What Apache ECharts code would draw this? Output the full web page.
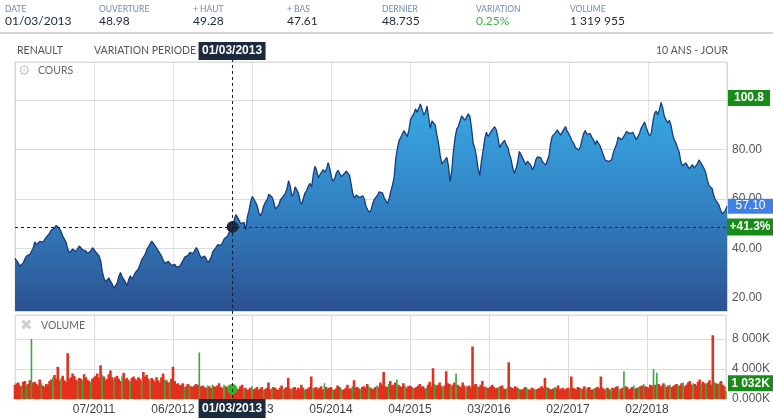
<!DOCTYPE html>
<html>
<head>
<meta charset="utf-8">
<script src="https://cdn.jsdelivr.net/npm/echarts@6/dist/echarts.min.js"></script>
<style>
html,body{margin:0;padding:0;background:#fff;}
#chart{width:773px;height:420px;}
</style>
</head>
<body>
<div id="chart"></div>
<script>
// bandeau du haut
var headLabels = ['DATE', 'OUVERTURE', '+ HAUT', '+ BAS', 'DERNIER', 'VARIATION', 'VOLUME'];
var headValues = ['01/03/2013', '48.98', '49.28', '47.61', '48.735', '0.25%', '1 319 955'];

// cours echantillonne (48 points par intervalle de grille)
var priceData = [
    36.0, 35.3, 34.1, 32.9, 33.4, 34.2, 35.8, 36.9, 37.1, 37.6, 38.9, 40.1, 42.7, 41.5, 41.9, 42.9, 43.1, 42.6, 43.6, 44.6,
    44.3, 46.2, 47.4, 47.0, 48.4, 49.3, 48.8, 48.1, 46.8, 44.9, 43.8, 42.5, 39.9, 38.2, 38.9, 39.8, 39.0, 38.7, 40.0, 41.0,
    40.5, 39.5, 39.3, 39.0, 38.0, 37.6, 39.1, 40.3, 40.6, 38.6, 37.9, 37.0, 35.0, 30.5, 28.0, 26.6, 27.3, 28.1, 26.7, 25.6,
    23.9, 24.6, 26.1, 28.8, 30.3, 28.5, 29.3, 26.4, 24.9, 27.5, 29.0, 27.6, 28.4, 30.2, 31.0, 31.9, 33.8, 35.6, 36.6, 37.6,
    39.6, 40.3, 41.9, 43.0, 42.1, 41.4, 40.1, 39.3, 37.9, 36.8, 35.2, 33.9, 33.7, 34.8, 34.2, 33.2, 32.9, 33.6, 32.4, 31.8,
    32.9, 33.6, 35.2, 36.5, 37.1, 37.2, 38.4, 38.9, 37.9, 38.5, 40.4, 39.3, 37.4, 36.2, 35.9, 36.9, 35.9, 34.3, 35.2, 36.4,
    38.7, 39.1, 40.4, 41.6, 41.8, 41.3, 42.5, 43.9, 44.6, 45.1, 46.6, 47.9, 48.735, 51.6, 53.7, 54.1, 51.4, 50.0, 49.7, 50.6,
    47.5, 52.8, 55.4, 58.9, 61.0, 60.2, 58.7, 57.1, 54.3, 53.2, 55.0, 57.4, 58.8, 59.7, 61.9, 62.6, 60.7, 58.9, 55.9, 55.2,
    57.5, 59.6, 60.5, 60.8, 62.3, 64.0, 67.4, 65.1, 61.2, 62.1, 64.9, 64.1, 62.3, 59.1, 57.9, 60.3, 62.5, 63.4, 65.3, 66.3,
    64.9, 69.9, 73.2, 71.6, 68.6, 68.9, 70.9, 71.9, 70.7, 72.2, 74.7, 72.3, 68.8, 67.1, 68.2, 70.6, 71.6, 70.9, 69.0, 68.6,
    70.4, 71.3, 71.7, 69.5, 65.8, 62.0, 60.4, 61.6, 61.7, 60.6, 61.2, 61.3, 59.9, 57.0, 55.6, 54.6, 55.5, 58.1, 59.8, 60.2,
    61.6, 62.9, 63.3, 62.4, 60.5, 59.9, 58.2, 60.1, 63.2, 65.5, 68.6, 76.2, 80.4, 83.6, 84.8, 85.1, 87.6, 88.4, 85.2, 87.9,
    92.1, 92.6, 94.5, 96.4, 95.0, 94.3, 98.4, 96.2, 93.9, 95.0, 97.5, 92.9, 88.5, 91.6, 92.3, 89.8, 85.7, 82.4, 77.5, 74.2,
    73.5, 75.9, 76.8, 73.4, 67.0, 71.5, 79.3, 84.6, 88.2, 89.3, 91.5, 93.6, 93.9, 91.8, 92.3, 94.4, 93.4, 88.6, 82.4, 80.5,
    77.1, 72.1, 69.6, 75.3, 79.5, 84.2, 87.0, 85.2, 85.3, 87.4, 88.1, 89.2, 88.0, 84.8, 80.7, 82.1, 82.3, 83.7, 82.0, 80.9,
    78.1, 76.0, 72.5, 70.4, 72.2, 75.1, 79.2, 78.5, 76.6, 75.9, 73.8, 75.3, 74.9, 73.5, 71.8, 73.2, 75.8, 77.0, 77.7, 76.7,
    75.1, 74.9, 73.7, 74.2, 77.5, 82.6, 85.4, 84.9, 86.8, 87.9, 87.3, 85.8, 85.7, 88.1, 89.3, 87.4, 86.4, 85.7, 83.4, 82.5,
    80.8, 81.3, 79.8, 81.0, 84.0, 86.4, 87.7, 86.2, 86.5, 86.4, 84.9, 83.9, 82.0, 83.6, 83.0, 81.4, 81.0, 77.8, 75.8, 76.3,
    75.1, 74.4, 75.8, 78.7, 80.4, 82.1, 85.0, 85.6, 83.9, 84.2, 85.9, 87.3, 87.8, 86.4, 86.0, 86.9, 85.3, 83.9, 83.9, 86.7,
    88.8, 89.6, 91.1, 88.9, 87.1, 85.5, 86.4, 91.0, 94.5, 95.5, 94.0, 96.1, 99.0, 96.8, 93.3, 92.9, 90.7, 91.8, 89.8, 86.2,
    83.9, 82.6, 80.6, 78.9, 75.0, 73.4, 74.1, 74.6, 73.5, 72.2, 72.7, 73.9, 72.5, 72.9, 74.2, 75.8, 76.2, 73.6, 72.4, 70.8,
    67.9, 65.5, 65.7, 64.2, 61.3, 59.6, 59.3, 57.7, 55.8, 54.0, 54.3, 55.3, 57.1
];

// volumes en milliers de titres
var volumeData = [
    1900, 2100, 2200, 1800, 1700, 2300, 2400, 1900, 2000, 2500, 8000, 2200, 2300, 2000, 1800, 2600, 2100, 1800, 1600, 2000,
    1900, 2400, 2600, 2900, 3200, 2700, 4300, 2500, 2800, 3100, 2500, 2300, 6100, 2700, 2900, 3400, 3100, 2600, 2400, 2800,
    2700, 2500, 3300, 2900, 2600, 2400, 2200, 2700, 2900, 3100, 3400, 2800, 4500, 3200, 3000, 2500, 2700, 3300, 3800, 2900,
    2600, 2900, 3100, 2700, 2400, 3000, 3500, 2600, 2800, 2500, 2300, 2800, 3000, 2700, 2500, 2900, 2700, 2400, 3600, 3000,
    3200, 2700, 2400, 2800, 2600, 2300, 2900, 2500, 2200, 2900, 3400, 2600, 2500, 2200, 2300, 2700, 4300, 2400, 2000, 2100,
    1800, 1900, 2100, 1600, 1700, 2000, 1900, 1700, 1600, 1800, 2000, 1900, 6200, 1700, 1800, 1600, 1500, 1800, 1700, 1500,
    1900, 1700, 1600, 1800, 2100, 1600, 1500, 1900, 1700, 1500, 1800, 1600, 1320, 1500, 1600, 1300, 1400, 1700, 1900, 1400,
    1500, 1200, 1300, 1500, 1700, 1300, 1400, 1600, 1200, 1400, 1600, 1200, 1300, 1500, 2200, 1300, 1400, 1600, 1500, 1300,
    1200, 1500, 1800, 1300, 1400, 1600, 2800, 1400, 1300, 1500, 1600, 1200, 1500, 1400, 1900, 1500, 1200, 1300, 1400, 1600,
    3000, 1400, 1500, 1600, 1300, 1500, 1700, 1300, 2100, 1600, 1400, 1500, 1600, 1300, 1200, 1400, 1800, 1600, 1500, 1200,
    1300, 1500, 1900, 1400, 1400, 1700, 2500, 1500, 1600, 1400, 1300, 1600, 1700, 1500, 2000, 1700, 1500, 1300, 1400, 1600,
    1800, 1600, 2200, 1900, 3600, 1700, 1600, 2000, 2400, 1800, 1900, 2200, 2600, 1900, 1700, 1600, 2100, 1800, 1500, 1700,
    1800, 1600, 1400, 1500, 1600, 1800, 2000, 1600, 1700, 1400, 1500, 1900, 2300, 1700, 4100, 2000, 1800, 1900, 2200, 1700,
    1600, 1800, 3700, 2100, 2000, 1700, 1900, 2200, 3400, 1900, 1700, 1600, 2200, 1800, 1500, 1700, 1800, 1500, 7000, 1900,
    2000, 1700, 1600, 1900, 2400, 1600, 1700, 1500, 1500, 1700, 1900, 1600, 1400, 1500, 1600, 1700, 1800, 1400, 1300, 1500,
    4900, 1600, 1500, 1400, 1700, 1500, 1400, 1300, 1200, 1400, 1600, 1500, 1300, 1200, 1500, 1400, 1200, 1300, 1400, 1500,
    1700, 1500, 2800, 1600, 1500, 1300, 1300, 1400, 1600, 1500, 1800, 1300, 1400, 1500, 1200, 1400, 1500, 1300, 3000, 1500,
    1400, 1300, 1600, 1500, 1300, 1400, 1700, 1200, 1500, 1600, 1200, 1300, 1400, 1500, 1600, 1400, 3000, 1500, 1300, 1400,
    1500, 1300, 1200, 1500, 1400, 1600, 1700, 1400, 1300, 1500, 3700, 1700, 1600, 1300, 1400, 1600, 1800, 1400, 1500, 1600,
    1700, 1800, 2000, 1700, 1600, 1500, 1900, 1800, 4000, 1900, 3500, 2000, 1800, 1700, 2100, 1900, 1600, 1800, 1900, 1600,
    1700, 1900, 2000, 1800, 1800, 2100, 2200, 1700, 1900, 2200, 2400, 1900, 2100, 2000, 1800, 2300, 2600, 2000, 2300, 2100,
    2000, 2200, 2500, 1900, 8500, 2300, 2100, 2000, 2200, 2400, 1900, 1700, 1032
];

// seances en hausse (barres vertes)
var greenDays = [4, 7, 10, 16, 23, 28, 38, 41, 46, 53, 60, 65, 70, 77, 82, 91, 94, 103, 106, 112, 117,
    120, 127, 132, 139, 144, 151, 156, 163, 168, 176, 181, 188, 193, 198, 205, 210, 215, 220, 227,
    232, 237, 242, 250, 255, 260, 265, 268, 274, 281, 286, 294, 299, 306, 311, 316, 323, 328, 337,
    344, 347, 352, 359, 362, 367, 370, 376, 379, 382, 388, 390, 395, 398, 403, 406, 412, 417, 420,
    425, 428, 432];

var xTickLabels = ['', '07/2011', '06/2012', '05/2013', '05/2014', '04/2015', '03/2016', '02/2017', '02/2018', ''];
var pointsPerTick = 48;

var selIndex = 132;
var selDate = '01/03/2013';
var selPrice = 48.735;
var selVolume = 1320;
var periodHigh = 100.8;
var lastPrice = 57.10;
var periodVar = '+41.3%';
var lastVolumeLabel = '1 032K';

var FONT = '"Liberation Sans", Arial, sans-serif';
var HFONT = 'Lato, "Open Sans", sans-serif';
var GREEN = '#178c17';

var chart = echarts.init(document.getElementById('chart'));

var lastIdx = priceData.length - 1;
var priceSeries = priceData.map(function (v, i) { return [i, v]; });
var isGreen = {};
greenDays.forEach(function (i) { isGreen[i] = true; });
// deux series pour que les barres vertes, plus fines, passent par dessus le rouge
var volRed = volumeData.map(function (v, i) { return [i, isGreen[i] ? null : v]; });
var volGreen = greenDays.map(function (i) { return [i, volumeData[i]]; });

function xLabel(v) {
    var k = Math.round(v / pointsPerTick);
    return xTickLabels[k] || '';
}

var option = {
    animation: false,
    backgroundColor: '#fff',
    grid: [
        {left: 15, right: 46, top: 62, height: 249, show: true, borderColor: '#dcdcdc', borderWidth: 1},
        {left: 15, right: 46, top: 315, height: 84, show: true, borderColor: '#dcdcdc', borderWidth: 1}
    ],
    xAxis: [
        {
            type: 'value', gridIndex: 0, min: 0, max: lastIdx, interval: pointsPerTick, z: 3,
            axisLine: {show: false}, axisTick: {show: false}, axisLabel: {show: false},
            splitLine: {show: true, lineStyle: {color: 'rgba(0,0,0,0.1)'}}
        },
        {
            type: 'value', gridIndex: 1, min: 0, max: lastIdx, interval: pointsPerTick,
            axisLine: {show: false}, axisTick: {show: false},
            axisLabel: {show: true, formatter: xLabel, color: '#444', fontFamily: FONT, fontSize: 12, margin: 5},
            splitLine: {show: true, lineStyle: {color: '#dcdcdc'}}
        },
        {
            type: 'value', gridIndex: 1, min: 0, max: lastIdx, show: false
        }
    ],
    yAxis: [
        {
            type: 'value', gridIndex: 0, position: 'right', min: 14.75, max: 115.35, splitNumber: 5,
            axisLine: {show: false}, axisTick: {show: false},
            axisLabel: {
                color: '#555', fontFamily: FONT, fontSize: 12, margin: 5,
                showMinLabel: false, showMaxLabel: false,
                formatter: function (v) { return v.toFixed(2); }
            },
            splitLine: {show: true, lineStyle: {color: '#dcdcdc'}}
        },
        {
            type: 'value', gridIndex: 1, position: 'right', min: 0, max: 11200, interval: 4000,
            axisLine: {show: false}, axisTick: {show: false},
            axisLabel: {
                color: '#555', fontFamily: FONT, fontSize: 12, margin: 6, showMaxLabel: false,
                formatter: function (v) { return v === 0 ? '0.000K' : (v / 1000) + ' 000K'; }
            },
            splitLine: {show: true, lineStyle: {color: '#dcdcdc'}}
        }
    ],
    series: [
        {
            name: 'COURS', type: 'line', xAxisIndex: 0, yAxisIndex: 0,
            data: priceSeries, showSymbol: false, symbol: 'none',
            lineStyle: {color: '#123d82', width: 1.3},
            areaStyle: {
                color: {type: 'linear', x: 0, y: 0, x2: 0, y2: 1, colorStops: [
                    {offset: 0, color: '#38a9e3'},
                    {offset: 0.5, color: '#3282c2'},
                    {offset: 1, color: '#2c5191'}
                ]},
                opacity: 1
            },
            markLine: {
                silent: true, symbol: 'none', label: {show: false},
                lineStyle: {color: '#1a1a1a', type: [3, 3], width: 1},
                data: [{yAxis: selPrice}]
            },
            markPoint: {
                silent: true, symbol: 'circle', symbolSize: 12, label: {show: false},
                itemStyle: {color: '#1c2a3c'},
                data: [{coord: [selIndex, selPrice]}]
            }
        },
        {
            name: 'VOLUME', type: 'bar', xAxisIndex: 1, yAxisIndex: 1,
            data: volRed, barWidth: 2.6, clip: true,
            itemStyle: {color: '#e3301c'}
        },
        {
            name: 'VOLUME+', type: 'bar', xAxisIndex: 2, yAxisIndex: 1,
            data: volGreen, barWidth: 1.6, clip: true, z: 3,
            itemStyle: {color: '#3ca63c'},
            markPoint: {
                silent: true, symbol: 'circle', symbolSize: 10, label: {show: false},
                itemStyle: {color: '#2db52d'},
                data: [{coord: [selIndex, selVolume]}]
            }
        }
    ]
};
chart.setOption(option);

function box(x, y, w, h, fill, text, bold) {
    return [
        {type: 'rect', z: 100, shape: {x: x, y: y, width: w, height: h}, style: {fill: fill}},
        {type: 'text', z: 101, x: x + w / 2, y: y + h / 2, style: {
            text: text, fill: '#fff', align: 'center', verticalAlign: 'middle',
            font: (bold ? 'bold ' : '') + '12px ' + FONT
        }}
    ];
}

var g = [];
// en-tete
var colX = [5, 99, 193, 287, 382, 476, 570];
headLabels.forEach(function (t, i) {
    g.push({type: 'text', x: colX[i], y: 9, style: {text: t, fill: '#6b8db4', font: '8.5px ' + HFONT, verticalAlign: 'middle'}});
    g.push({type: 'text', x: colX[i], y: 21, style: {
        text: headValues[i], fill: i === 5 ? '#3db54a' : '#1e2a38', font: '12px ' + HFONT, verticalAlign: 'middle'
    }});
});
g.push({type: 'line', shape: {x1: 0, y1: 33, x2: 773, y2: 33}, style: {stroke: '#d4d4d4', lineWidth: 2}});
g.push({type: 'text', x: 17, y: 51, style: {text: 'RENAULT', fill: '#555', font: '10.5px ' + HFONT, verticalAlign: 'middle'}});
g.push({type: 'text', x: 94, y: 51, style: {text: 'VARIATION PERIODE', fill: '#555', font: '10.5px ' + HFONT, verticalAlign: 'middle'}});
g.push({type: 'text', x: 728, y: 51, style: {text: '10 ANS - JOUR', fill: '#555', font: '10.5px ' + HFONT, align: 'right', verticalAlign: 'middle'}});
g.push({type: 'text', x: 18, y: 71, style: {text: '\u2699', fill: '#cfcfcf', font: '14px "DejaVu Sans"', verticalAlign: 'middle'}});
g.push({type: 'text', x: 38, y: 71, style: {text: 'COURS', fill: '#666', font: '10.5px ' + HFONT, verticalAlign: 'middle'}});
g.push({type: 'text', x: 20, y: 326, style: {text: '\u2716', fill: '#cfcfcf', font: '15px "DejaVu Sans"', verticalAlign: 'middle'}});
g.push({type: 'text', x: 41, y: 326, style: {text: 'VOLUME', fill: '#666', font: '10.5px ' + HFONT, verticalAlign: 'middle'}});

// ligne verticale du curseur
var sx = chart.convertToPixel({xAxisIndex: 0}, selIndex);
g.push({type: 'line', z: 50, shape: {x1: sx, y1: 59, x2: sx, y2: 399}, style: {stroke: '#1a1a1a', lineWidth: 1, lineDash: [3, 3]}});
g = g.concat(box(sx - 34, 42, 67, 18, '#1b2b3f', selDate, true));
g = g.concat(box(sx - 34, 399, 67, 19, '#1b2b3f', selDate, true));

// etiquettes a droite
var yHigh = chart.convertToPixel({yAxisIndex: 0}, periodHigh);
var yLast = chart.convertToPixel({yAxisIndex: 0}, lastPrice);
var ySel = chart.convertToPixel({yAxisIndex: 0}, selPrice);
var yVol = chart.convertToPixel({yAxisIndex: 1}, volumeData[lastIdx]);
g = g.concat(box(728, yHigh - 8, 42, 16, GREEN, periodHigh.toFixed(1), true));
g = g.concat(box(728, yLast - 7.5, 45, 15, '#3f7fe6', lastPrice.toFixed(2), false));
g = g.concat(box(727, ySel - 8.5, 46, 17, GREEN, periodVar, true));
g = g.concat(box(728, yVol - 16, 45, 16, GREEN, lastVolumeLabel, true));

chart.setOption({graphic: g});
</script>
</body>
</html>
